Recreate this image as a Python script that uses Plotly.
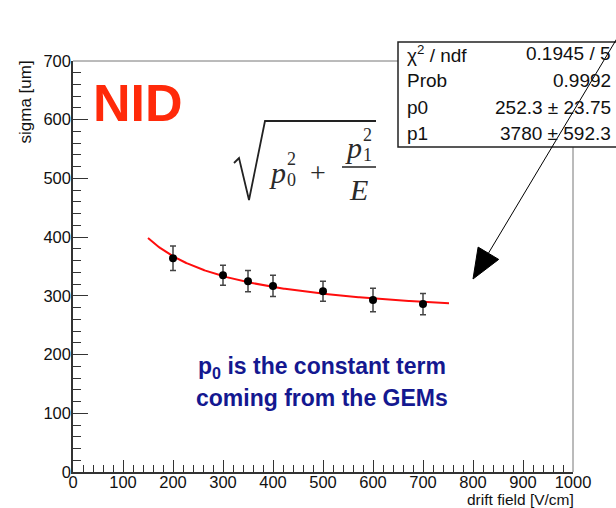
import numpy as np
import plotly.graph_objects as go

# ---- data ----
drift_field = [200, 300, 350, 400, 500, 600, 700]
sigma = [364, 335, 325, 317, 308, 293, 286]
sigma_err = [21, 17, 18, 18, 17, 20, 18]

# fit parameters (from stats box)
p0 = 252.3
p1 = 3780.0
fit_range = [150, 752]

stats_labels = ["\u03c7<sup>2</sup> / ndf", "Prob", "p0", "p1"]
stats_values = ["0.1945 / 5", "0.9992", "252.3 \u00b1 23.75", "3780 \u00b1 592.3"]

x_ticks = list(range(0, 1001, 100))
y_ticks = list(range(0, 701, 100))

# ---- layout geometry (pixels) ----
W, H = 616, 508
L, R, T, B = 73, 573, 61, 472


def px(x, y):
    return (x - L) / (R - L), (B - y) / (B - T)


fig = go.Figure()

E = np.linspace(fit_range[0], fit_range[1], 300)
fit = np.sqrt(p0 ** 2 + p1 ** 2 / E)
fig.add_trace(go.Scatter(x=E, y=fit, mode="lines",
                         line=dict(color="#ff0d0d", width=2), hoverinfo="skip"))

fig.add_trace(go.Scatter(
    x=drift_field, y=sigma, mode="markers",
    marker=dict(color="black", size=8),
    error_y=dict(type="data", array=sigma_err, color="#444", thickness=1.5, width=3),
))

axis_font = dict(family="Liberation Sans, Arial, sans-serif", size=16.5, color="#111")
fig.update_xaxes(range=[0, 1000], tickvals=x_ticks, ticks="inside", ticklen=12,
                 tickcolor="#333", showline=True, linecolor="#333", linewidth=1.5,
                 showgrid=False, zeroline=False, tickfont=axis_font,
                 minor=dict(dtick=20, ticks="inside", ticklen=7, tickcolor="#333"),
                 ticklabelstandoff=-6)
fig.update_yaxes(range=[0, 700], tickvals=y_ticks, ticks="inside", ticklen=15,
                 tickcolor="#333", showline=True, linecolor="#333", linewidth=1.5,
                 showgrid=False, zeroline=False, tickfont=axis_font,
                 minor=dict(dtick=20, ticks="inside", ticklen=8, tickcolor="#333"),
                 ticklabelstandoff=-3)

shapes = []
# top/right frame
x0, y0 = px(L, T)
x1, y1 = px(R, B)
shapes.append(dict(type="path", xref="paper", yref="paper",
                   path=f"M {x1},{y1} L {x1},{y0} L {x0},{y0}",
                   line=dict(color="#777", width=1)))

# formula radical
pts = [(234, 163), (239, 158), (249, 200), (265, 121), (376, 121)]
path = "M " + " L ".join(f"{px(a, b)[0]},{px(a, b)[1]}" for a, b in pts)
shapes.append(dict(type="path", xref="paper", yref="paper", path=path,
                   line=dict(color="#222", width=1.8)))
# fraction bar
fa, fb = px(342, 167), px(376, 167)
shapes.append(dict(type="line", xref="paper", yref="paper", x0=fa[0], y0=fa[1],
                   x1=fb[0], y1=fb[1], line=dict(color="#222", width=1.5)))

# stats box
bx0, by0 = px(398, 42)
bx1, by1 = px(640, 147)
shapes.append(dict(type="rect", xref="paper", yref="paper", x0=bx0, y0=by0, x1=bx1, y1=by1,
                   line=dict(color="#222", width=1.5), fillcolor="white", layer="above"))

# arrow line + head
tip = (473, 279)
start = (634, 10)
s0 = px(*start)
d = np.array([start[0] - tip[0], start[1] - tip[1]], dtype=float)
d /= np.linalg.norm(d)
base = (tip[0] + 30 * d[0], tip[1] + 30 * d[1])
perp = np.array([-d[1], d[0]])
c1 = (base[0] + 12 * perp[0], base[1] + 12 * perp[1])
c2 = (base[0] - 12 * perp[0], base[1] - 12 * perp[1])
bp = px(*base)
shapes.append(dict(type="line", xref="paper", yref="paper", x0=s0[0], y0=s0[1],
                   x1=bp[0], y1=bp[1], line=dict(color="black", width=1), layer="above"))
tri = "M " + " L ".join(f"{px(*q)[0]},{px(*q)[1]}" for q in [tip, c1, c2]) + " Z"
shapes.append(dict(type="path", xref="paper", yref="paper", path=tri,
                   fillcolor="black", line=dict(color="black", width=1), layer="above"))

annotations = []


def ann(text, x, y, size, color="#111", family="Liberation Sans, Arial, sans-serif",
        xanchor="center", yanchor="middle", angle=0):
    ax_, ay_ = px(x, y)
    annotations.append(dict(text=text, x=ax_, y=ay_, xref="paper", yref="paper",
                            showarrow=False, xanchor=xanchor, yanchor=yanchor,
                            textangle=angle, borderpad=0,
                            font=dict(size=size, color=color, family=family)))


# axis titles
ann("sigma [um]", 25, 60, 17, yanchor="top", angle=-90)
ann("drift field [V/cm]", 575, 499, 15.5, xanchor="right")

# NID label
ann("<b>NID</b>", 92, 103, 52, color="#ff2a0a", xanchor="left")

# formula
serif = "Liberation Serif, Times New Roman, serif"
fc = "#2a2a2a"
ann("<i>p</i>", 277, 172, 30, fc, serif)
ann("2", 291, 159, 18, fc, serif)
ann("0", 291, 180, 18, fc, serif)
ann("+", 318, 172, 28, fc, serif)
ann("<i>p</i>", 353, 147, 30, fc, serif)
ann("2", 367, 135, 18, fc, serif)
ann("1", 367, 155, 18, fc, serif)
ann("<i>E</i>", 358, 189, 30, fc, serif)

# blue comment
blue = "#141890"
ann("<b>p<sub>0</sub> is the constant term</b>", 322, 367, 23, blue)
ann("<b>coming from the GEMs</b>", 322, 398, 23, blue)

# stats box text
rows_y = [54, 80.5, 107, 133.5]
for lab, val, yy in zip(stats_labels, stats_values, rows_y):
    ann(lab, 406, yy, 19, "#111", xanchor="left")
    ann(val, 612, yy, 19, "#111", xanchor="right")

fig.update_layout(width=W, height=H, margin=dict(l=L, r=W - R, t=T, b=H - B),
                  paper_bgcolor="white", plot_bgcolor="white", showlegend=False,
                  shapes=shapes, annotations=annotations)

fig.write_html("out.html")
